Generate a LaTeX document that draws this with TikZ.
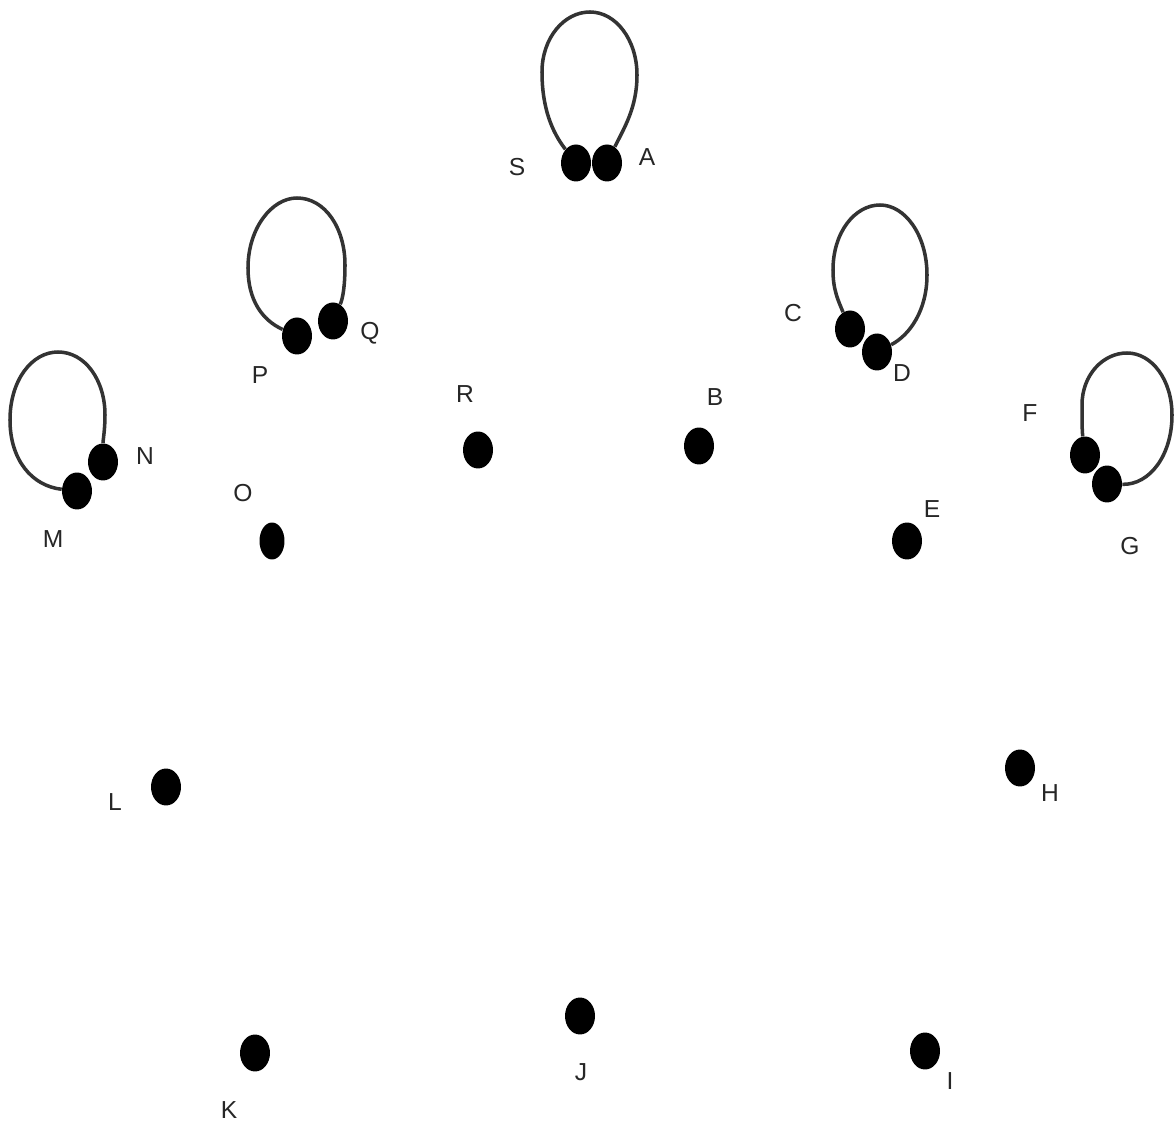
\documentclass[tikz,border=0pt]{standalone}
\usepackage{fontspec}
\setmainfont{Liberation Sans}
\usetikzlibrary{shapes.geometric}
\begin{document}
\begin{tikzpicture}[x=0.02cm,y=-0.02cm,
  dot/.style={ellipse,fill=black,draw=none,minimum width=0.6cm,minimum height=0.74cm,inner sep=0pt},
  lbl/.style={font=\fontsize{14}{16}\selectfont,text=black!85,inner sep=0pt},
  loopline/.style={draw=black!80,line width=2pt}]
\useasboundingbox[fill=white] (0,0) rectangle (1174,1121);
% dots
\node[dot] (S) at (576,163) {};
\node[dot] (A) at (607,163) {};
\node[dot] (P) at (297,336) {};
\node[dot] (Q) at (333,321) {};
\node[dot] (M) at (77,491) {};
\node[dot] (N) at (103,462) {};
\node[dot] (C) at (850,329) {};
\node[dot] (D) at (877,352) {};
\node[dot] (F) at (1085,455) {};
\node[dot] (G) at (1107,484) {};
\node[dot] (R) at (478,450) {};
\node[dot] (B) at (699,446) {};
\node[dot,minimum width=0.5cm] (O) at (272,541) {};
\node[dot] (E) at (907,541) {};
\node[dot] (L) at (166,787) {};
\node[dot] (H) at (1020,768) {};
\node[dot] (K) at (255,1053) {};
\node[dot] (J) at (580,1016) {};
\node[dot] (I) at (925,1051) {};
% labels
\node[lbl] (lS) at (517,167) {S};
\node[lbl] (lA) at (647,157) {A};
\node[lbl] (lQ) at (370,333) {Q};
\node[lbl] (lP) at (260,375) {P};
\node[lbl] (lN) at (145,456) {N};
\node[lbl] (lM) at (53,539) {M};
\node[lbl] (lC) at (793,313) {C};
\node[lbl] (lD) at (902,373) {D};
\node[lbl] (lF) at (1030,413) {F};
\node[lbl] (lG) at (1130,546) {G};
\node[lbl] (lR) at (465,394) {R};
\node[lbl] (lB) at (715,397) {B};
\node[lbl] (lO) at (243,493) {O};
\node[lbl] (lE) at (932,509) {E};
\node[lbl] (lL) at (115,802) {L};
\node[lbl] (lH) at (1050,793) {H};
\node[lbl] (lK) at (229,1110) {K};
\node[lbl] (lJ) at (581,1072) {J};
\node[lbl] (lI) at (950,1081) {I};
% loops
\path[loopline] (S) .. controls (552,132) and (542,108) .. (542,72)
  .. controls (542,38) and (564,12) .. (590,12)
  .. controls (616,12) and (637,40) .. (637,75)
  .. controls (637,108) and (624,128) .. (A);
\path[loopline] (P) .. controls (262,320) and (248,300) .. (248,268)
  .. controls (248,228) and (272,198) .. (297,198)
  .. controls (325,198) and (345,228) .. (345,265)
  .. controls (345,285) and (343,298) .. (Q);
\path[loopline] (M) .. controls (32,486) and (10,460) .. (10,420)
  .. controls (10,380) and (32,352) .. (58,352)
  .. controls (85,352) and (105,380) .. (105,415)
  .. controls (105,430) and (103,440) .. (N);
\path[loopline] (C) .. controls (838,300) and (833,290) .. (833,270)
  .. controls (833,232) and (855,205) .. (880,205)
  .. controls (905,205) and (927,235) .. (927,275)
  .. controls (927,310) and (910,335) .. (D);
\path[loopline] (F) .. controls (1082,430) and (1082,420) .. (1082,405)
  .. controls (1082,375) and (1103,353) .. (1127,353)
  .. controls (1152,353) and (1172,380) .. (1172,415)
  .. controls (1172,455) and (1150,485) .. (G);
\end{tikzpicture}
\end{document}
